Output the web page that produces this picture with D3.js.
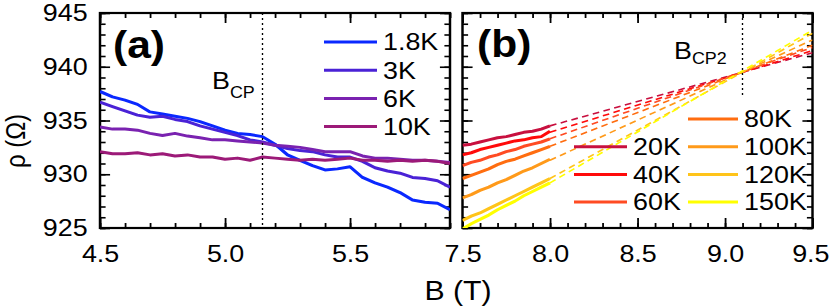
<!DOCTYPE html>
<html>
<head>
<meta charset="utf-8">
<script src="https://cdn.jsdelivr.net/npm/d3@7/dist/d3.min.js"></script>
<style>
  body { margin: 0; background: #fff; }
  svg { display: block; }
</style>
</head>
<body>
<svg id="chart"></svg>
<script>
// ---- data, panel (a) ----
const fieldA = [4.5, 4.55, 4.6, 4.65, 4.7, 4.75, 4.8, 4.85, 4.9, 4.95, 5.0, 5.05, 5.1, 5.15, 5.2,
  5.25, 5.3, 5.35, 5.4, 5.45, 5.5, 5.55, 5.6, 5.65, 5.7, 5.75, 5.8, 5.85, 5.9];
const rho1p8K = [937.7, 937.2, 936.9, 936.5, 935.8, 935.6, 935.4, 935.2, 934.9, 934.5, 934.1, 933.8, 933.7, 933.5, 932.8,
  931.8, 931.3, 930.8, 930.4, 930.5, 930.7, 929.7, 929.2, 928.8, 928.3, 927.6, 927.4, 927.3, 926.7];
const rho3K = [936.7, 936.3, 935.9, 935.5, 935.3, 935.4, 935.1, 934.9, 934.5, 934.2, 933.9, 933.6, 933.2, 933.0, 932.7,
  932.4, 932.2, 932.1, 931.8, 931.6, 931.6, 931.2, 930.6, 930.3, 930.1, 929.7, 929.6, 929.4, 928.8];
const rho6K = [934.4, 934.2, 934.2, 934.1, 933.8, 933.6, 933.8, 933.55, 933.4, 933.2, 933.2, 933.1, 933.0, 932.9, 932.7,
  932.6, 932.5, 932.3, 932.1, 932.1, 932.1, 931.7, 931.5, 931.5, 931.4, 931.3, 931.3, 931.2, 931.1];
const rho10K = [932.1, 931.9, 931.9, 932.0, 931.8, 931.9, 931.7, 931.8, 931.6, 931.6, 931.4, 931.5, 931.3, 931.6, 931.5,
  931.4, 931.3, 931.4, 931.3, 931.4, 931.5, 931.3, 931.3, 931.2, 931.3, 931.2, 931.3, 931.2, 931.0];
const seriesA = [
  { name: "1.8K", color: "#0a28ff", values: rho1p8K },
  { name: "3K", color: "#4a22d6", values: rho3K },
  { name: "6K", color: "#7a22b0", values: rho6K },
  { name: "10K", color: "#9c1a78", values: rho10K },
];
const bcp = 5.15;

// ---- data, panel (b) ----
const fieldB = [7.5, 7.55, 7.6, 7.65, 7.7, 7.75, 7.8, 7.85, 7.9, 7.95, 8.0];
const rho20K = [932.7, 932.8, 933.0, 933.2, 933.4, 933.5, 933.7, 933.9, 934.0, 934.2, 934.5];
const rho40K = [931.8, 932.0, 932.3, 932.5, 932.7, 932.9, 933.1, 933.2, 933.4, 933.5, 934.0];
const rho60K = [930.8, 931.1, 931.3, 931.6, 931.8, 932.1, 932.3, 932.6, 932.8, 933.0, 933.3];
const rho80K = [929.6, 929.9, 930.2, 930.5, 930.9, 931.2, 931.4, 931.7, 932.0, 932.3, 932.6];
const rho100K = [927.8, 928.1, 928.5, 928.8, 929.2, 929.5, 929.9, 930.3, 930.6, 931.0, 931.4];
const rho120K = [925.7, 926.1, 926.4, 926.8, 927.2, 927.6, 928.0, 928.4, 928.8, 929.2, 929.6];
const rho150K = [924.9, 925.4, 925.8, 926.2, 926.7, 927.1, 927.5, 928.0, 928.4, 928.8, 929.2];
// linear extrapolations (dashed), value at B = 8.0 and at B = 9.5
const fitField = [8.0, 9.5];
const fitStart = [934.5, 933.9, 933.3, 932.6, 931.3, 929.6, 929.2];
const fitEnd = [941.3, 941.5, 941.8, 942.0, 942.5, 943.1, 943.4];
const namesB = ["20K", "40K", "60K", "80K", "100K", "120K", "150K"];
const colorsB = ["#c8103f", "#ff0a0a", "#ff4b23", "#ff6d10", "#ff9a1a", "#ffc41a", "#ffff00"];
const valuesB = [rho20K, rho40K, rho60K, rho80K, rho100K, rho120K, rho150K];
const bcp2 = 9.1;
const bcp2Top = 937.1;

const ticksY = [925, 930, 935, 940, 945];
const labelsA = [4.5, 5.0, 5.5];
const labelsB = [7.5, 8.0, 8.5, 9.0, 9.5];

// ---- layout ----
// the original figure is stretched horizontally; draw in narrower units and stretch
const SX = 1.12;
const W = 830, H = 306;
const font = "'Liberation Sans', Arial, Helvetica, sans-serif";

const svg = d3.select("#chart")
  .attr("width", W).attr("height", H)
  .attr("viewBox", `0 0 ${W / SX} ${H}`)
  .attr("preserveAspectRatio", "none")
  .style("font-family", font);

const y = d3.scaleLinear().domain([925, 945]).range([228, 13]);
const xA = d3.scaleLinear().domain([4.5, 5.9]).range([100 / SX, 450 / SX]);
const xB = d3.scaleLinear().domain([7.5, 9.5]).range([462.5 / SX, 812.5 / SX]);

const defs = svg.append("defs");

function panel(id, x, xMajor, xMinor, showY) {
  const [x0, x1] = x.range();
  const [y1, y0] = y.range();
  const g = svg.append("g");

  defs.append("clipPath").attr("id", id)
    .append("rect").attr("x", x0).attr("y", y0).attr("width", x1 - x0).attr("height", y1 - y0);

  const yMinor = d3.range(925, 946, 1);
  const axes = [
    [d3.axisBottom(x).tickValues(xMinor).tickSize(-5), `translate(0,${y1})`],
    [d3.axisBottom(x).tickValues(xMajor).tickSize(-10), `translate(0,${y1})`],
    [d3.axisTop(x).tickValues(xMinor).tickSize(-5), `translate(0,${y0})`],
    [d3.axisTop(x).tickValues(xMajor).tickSize(-10), `translate(0,${y0})`],
    [d3.axisLeft(y).tickValues(yMinor).tickSize(-5), `translate(${x0},0)`],
    [d3.axisLeft(y).tickValues(ticksY).tickSize(-9), `translate(${x0},0)`],
    [d3.axisRight(y).tickValues(yMinor).tickSize(-5), `translate(${x1},0)`],
    [d3.axisRight(y).tickValues(ticksY).tickSize(-9), `translate(${x1},0)`],
  ];
  axes.forEach(([ax, tr]) => {
    const a = g.append("g").attr("transform", tr).call(ax.tickFormat(""));
    a.select(".domain").remove();
    a.selectAll("line").attr("stroke", "#000").attr("stroke-width", 1.6);
  });

  // tick labels
  const lab = g.append("g").attr("transform", `translate(0,${y1})`)
    .call(d3.axisBottom(x).tickValues(xMajor).tickSize(0).tickPadding(17).tickFormat(d3.format(".1f")));
  lab.select(".domain").remove();
  lab.selectAll("text").attr("font-size", 24).attr("font-family", font).attr("fill", "#000")
    .attr("dx", d => d === 9.5 ? -2 : 0);

  if (showY) {
    const ly = g.append("g").attr("transform", `translate(${x0},0)`)
      .call(d3.axisLeft(y).tickValues(ticksY).tickSize(0).tickPadding(11).tickFormat(d3.format("d")));
    ly.select(".domain").remove();
    ly.selectAll("text").attr("font-size", 24).attr("font-family", font).attr("fill", "#000");
  }

  g.append("rect").attr("x", x0).attr("y", y0).attr("width", x1 - x0).attr("height", y1 - y0)
    .attr("fill", "none").attr("stroke", "#000").attr("stroke-width", 2.2);

  return svg.append("g").attr("clip-path", `url(#${id})`);
}

// ---- panel (a) ----
const plotA = panel("clipA", xA, labelsA, d3.range(4.5, 5.91, 0.1), true);
const lineA = d3.line().x((d, i) => xA(fieldA[i])).y(d => y(d));
plotA.selectAll("path.s").data(seriesA).join("path")
  .attr("fill", "none").attr("stroke", d => d.color).attr("stroke-width", 3)
  .attr("stroke-linejoin", "round")
  .attr("d", d => lineA(d.values));

svg.append("line")
  .attr("x1", xA(bcp)).attr("x2", xA(bcp)).attr("y1", y(945)).attr("y2", y(925))
  .attr("stroke", "#000").attr("stroke-width", 1.2).attr("stroke-dasharray", "2,3");

svg.append("text").attr("x", 113 / SX).attr("y", 58)
  .attr("font-size", 38).attr("font-weight", "bold").text("(a)");

const bcpText = svg.append("text").attr("x", 212 / SX).attr("y", 89).attr("font-size", 24);
bcpText.append("tspan").text("B");
bcpText.append("tspan").attr("dy", 9).attr("font-size", 16).text("CP");

const legA = svg.append("g");
seriesA.forEach((s, i) => {
  const ly = 42 + i * 28.2;
  legA.append("line").attr("x1", 324 / SX).attr("x2", 377 / SX).attr("y1", ly).attr("y2", ly)
    .attr("stroke", s.color).attr("stroke-width", 3);
  legA.append("text").attr("x", 383 / SX).attr("y", ly).attr("dy", "0.35em")
    .attr("font-size", 24).text(s.name);
});

// ---- panel (b) ----
const plotB = panel("clipB", xB, labelsB, d3.range(7.5, 9.51, 0.1), false);
const lineB = d3.line().x((d, i) => xB(fieldB[i])).y(d => y(d));
const fitLine = d3.line().x((d, i) => xB(fitField[i])).y(d => y(d));

valuesB.forEach((vals, i) => {
  plotB.append("path").attr("fill", "none").attr("stroke", colorsB[i]).attr("stroke-width", 3)
    .attr("stroke-linejoin", "round").attr("d", lineB(vals));
});
valuesB.forEach((vals, i) => {
  plotB.append("path").attr("fill", "none").attr("stroke", colorsB[i]).attr("stroke-width", 1.6)
    .attr("stroke-dasharray", "6,4").attr("d", fitLine([fitStart[i], fitEnd[i]]));
});

svg.append("line")
  .attr("x1", xB(bcp2)).attr("x2", xB(bcp2)).attr("y1", y(945)).attr("y2", y(bcp2Top))
  .attr("stroke", "#000").attr("stroke-width", 1.2).attr("stroke-dasharray", "2,3");

svg.append("text").attr("x", 477 / SX).attr("y", 57)
  .attr("font-size", 38).attr("font-weight", "bold").text("(b)");

const bcp2Text = svg.append("text").attr("x", 674 / SX).attr("y", 59).attr("font-size", 24);
bcp2Text.append("tspan").text("B");
bcp2Text.append("tspan").attr("dy", 5).attr("font-size", 16).text("CP2");

const legB = svg.append("g");
namesB.forEach((n, i) => {
  const col = i < 3 ? 0 : 1;
  const row = i < 3 ? i + 1 : i - 3;
  const ly = 119 + row * 27.7;
  const lx0 = col === 0 ? 574 : 688;
  const lx1 = col === 0 ? 627 : 738;
  const tx = col === 0 ? 633 : 744;
  legB.append("line").attr("x1", lx0 / SX).attr("x2", lx1 / SX).attr("y1", ly).attr("y2", ly)
    .attr("stroke", colorsB[i]).attr("stroke-width", 3);
  legB.append("text").attr("x", tx / SX).attr("y", ly).attr("dy", "0.35em")
    .attr("font-size", 24).text(n);
});

// ---- axis titles ----
svg.append("text").attr("x", 458 / SX).attr("y", 300).attr("text-anchor", "middle")
  .attr("font-size", 27).text("B (T)");
svg.append("text").attr("transform", `translate(${25 / SX},141) rotate(-90)`)
  .attr("text-anchor", "middle").attr("font-size", 24).text("ρ (Ω)");
</script>
</body>
</html>
